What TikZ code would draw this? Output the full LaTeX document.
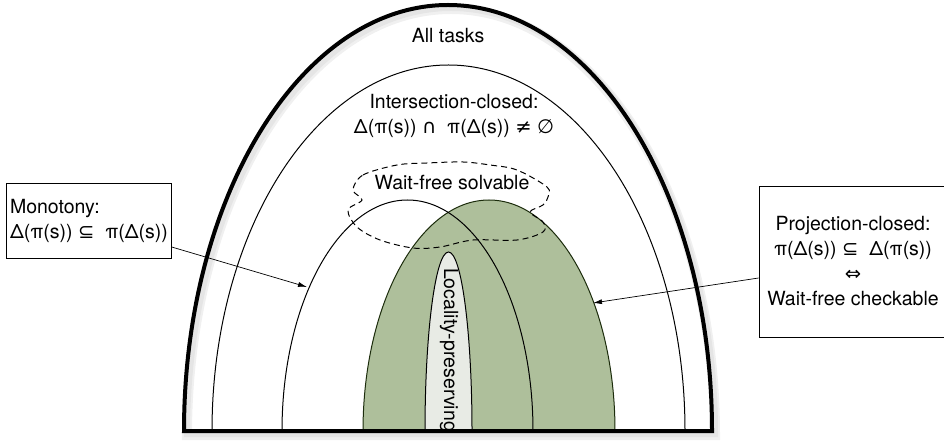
\documentclass[tikz,border=0pt]{standalone}
\usepackage{fontspec}
\setmainfont{TeX Gyre Heros}
\newfontfamily\symfont{DejaVu Sans}
\usetikzlibrary{arrows.meta}

\begin{document}
\begin{tikzpicture}[x=1pt,y=-1pt,
    txt/.style={font=\fontsize{19.5}{25}\selectfont},
    box/.style={shape=rectangle,draw,line width=0.8pt,txt},
    arch/.style={line width=1pt},
    pointer/.style={-{Latex[length=9pt,width=5pt]},line width=0.7pt}]
\definecolor{wfc_green}{RGB}{174,191,155}
\definecolor{wfc_edge}{RGB}{28,44,12}
\definecolor{loc_fill}{RGB}{232,235,229}
\useasboundingbox (0,0) rectangle (944,446);

% soft shadow of the outer set
\draw[line width=10pt,black!6] (187,435) arc[start angle=180,end angle=360,x radius=264,y radius=426] -- cycle;
\draw[line width=6pt,black!10] (187,434) arc[start angle=180,end angle=360,x radius=264,y radius=426] -- cycle;

\filldraw[fill=wfc_green,draw=wfc_edge,arch] (363,431) arc[start angle=180,end angle=360,x radius=126,y radius=231];
\draw[arch] (282,431) arc[start angle=180,end angle=360,x radius=125.5,y radius=231];
\filldraw[fill=loc_fill,draw=black,arch] (425,431) arc[start angle=180,end angle=360,x radius=23.5,y radius=179];
\draw[arch] (212,431) arc[start angle=180,end angle=360,x radius=236.5,y radius=366];
\draw[line width=4pt,line join=miter] (184,431) arc[start angle=180,end angle=360,x radius=264,y radius=426] -- cycle;

% wait-free solvable cloud
\draw[line width=1pt,dash pattern=on 6pt off 4pt] plot[smooth cycle,tension=0.55] coordinates {
    (353,190) (363,175) (397,165) (427,163) (463,162) (490,165) (517,170)
    (547,187) (548,197) (543,205) (530,212) (543,222) (543,232) (517,240)
    (473,240) (440,247) (413,248) (380,240) (357,227) (348,210) (362,200)};

\node[txt] (all) at (448,36) {All tasks};
\node[txt,align=center] (inter) at (454,116) {Intersection-closed:\\ Δ(π(s)) {\symfont ∩}\;\;π(Δ(s)) {\symfont ≠} {\symfont ∅}};
\node[txt] (solvable) at (452,183) {Wait-free solvable};
\node[txt,rotate=-90] (locality) at (449,350) {Locality-preserving};

\node[box,align=left,minimum width=162pt,minimum height=75pt] (mono) at (89,220.5) {Monotony:\\ Δ(π(s)) {\symfont ⊆}\;\;π(Δ(s))};
\node[box,align=center,minimum width=188pt,minimum height=151pt] (proj) at (853,261.5) {Projection-closed:\\ π(Δ(s)) {\symfont ⊆}\;\;Δ(π(s))\\ {\symfont ⇔}\\ Wait-free checkable};

\coordinate (monotip) at (307,287);
\coordinate (greentip) at (593,303);
\draw[pointer] ([yshift=-26.5pt]mono.east) -- (monotip);
\draw[pointer] ([yshift=-16.5pt]proj.west) -- (greentip);
\end{tikzpicture}
\end{document}
